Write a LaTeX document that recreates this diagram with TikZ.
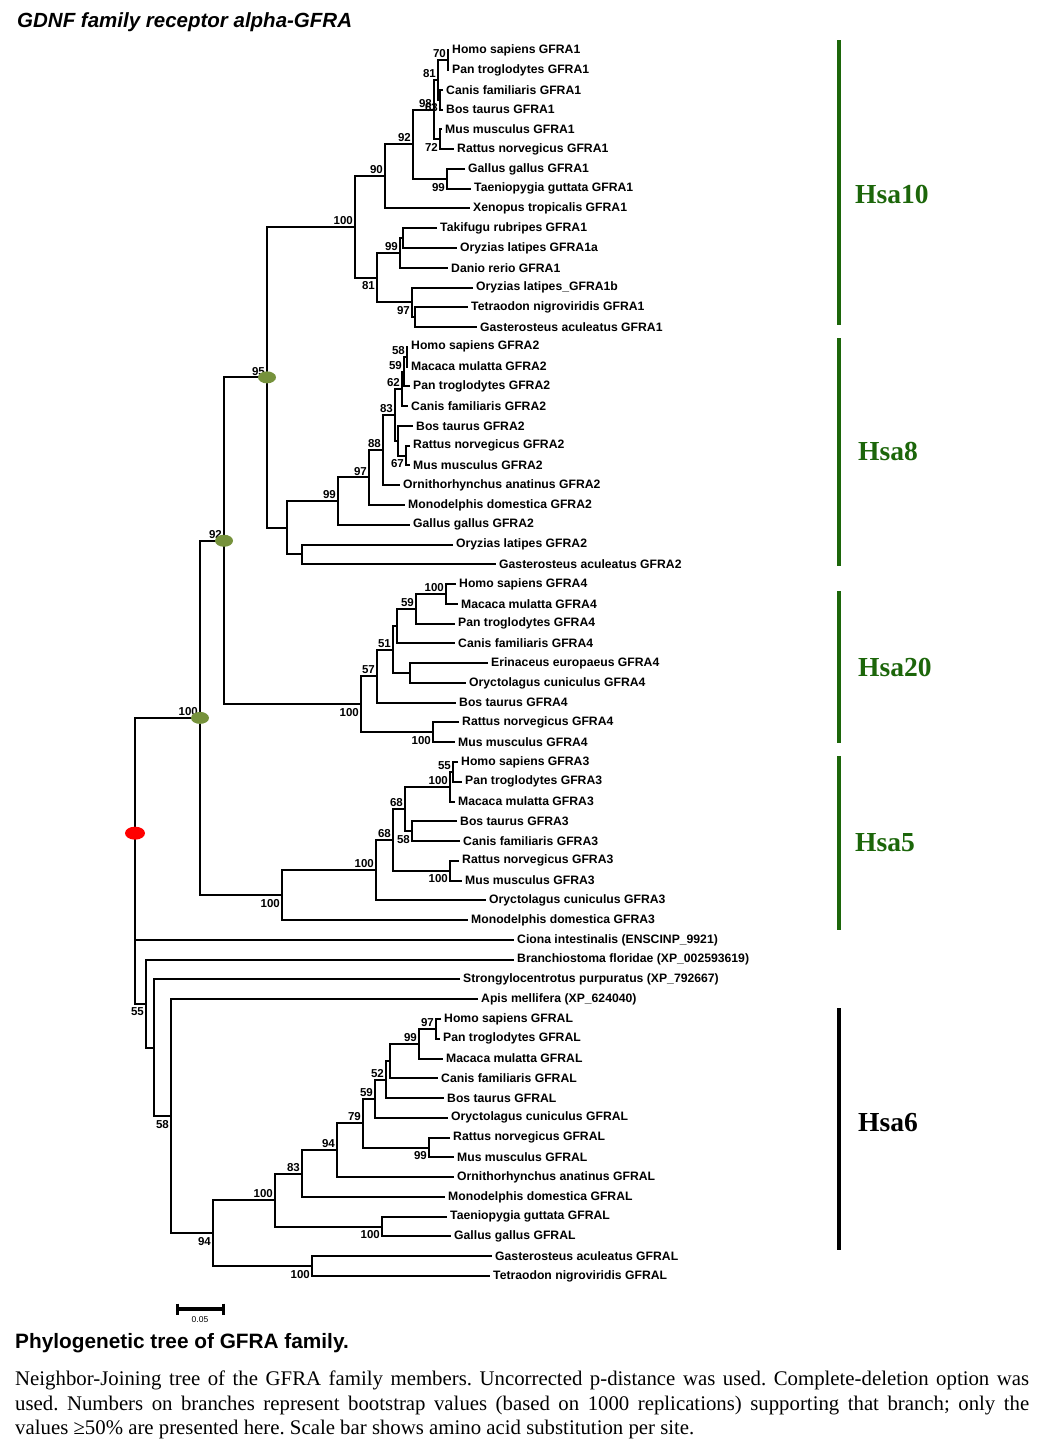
\documentclass[tikz,border=0pt]{standalone}
\usepackage{fontspec}
\setmainfont{Liberation Serif}
\setsansfont{Liberation Sans}
\usetikzlibrary{shapes.geometric,positioning}
\definecolor{hsagreen}{RGB}{28,102,10}
\definecolor{dotgreen}{RGB}{118,146,60}

\begin{document}
\begin{tikzpicture}[
    x=1pt, y=-1pt,
    branch/.style={line width=2pt},
    leaf/.style={anchor=west, inner xsep=3pt, inner ysep=0pt, font=\sffamily\bfseries\fontsize{12.2}{14}\selectfont},
    bsup/.style={anchor=south east, inner sep=1pt, xshift=-1pt, yshift=1pt, font=\sffamily\bfseries\fontsize{11.5}{12}\selectfont},
    bsdn/.style={anchor=north east, inner sep=1pt, xshift=-1pt, yshift=-3pt, font=\sffamily\bfseries\fontsize{11.5}{12}\selectfont},
    gdot/.style={ellipse, fill=dotgreen, minimum width=18pt, minimum height=12pt, inner sep=0pt},
    rdot/.style={ellipse, fill=red, minimum width=20pt, minimum height=13pt, inner sep=0pt},
    hsabar/.style={line width=4pt},
    hsa/.style={anchor=west, inner sep=0pt, font=\rmfamily\bfseries\fontsize{27.5}{30}\selectfont}
]
    \fill[white] (0,0) rectangle (1044,1454);
    \useasboundingbox (0,0) rectangle (1044,1454);

    % Title
    \node[anchor=base west, inner sep=0pt, font=\sffamily\bfseries\itshape\fontsize{20.5}{24}\selectfont] (title) at (17,27) {GDNF family receptor alpha-GFRA};

    % Tree (rows of leaves)
    \begin{scope}[y=-19.77pt, yshift=-30.5pt]

    % Leaves
    \foreach \n/\x/\t [count=\r] in {
        hsa1/449/Homo sapiens GFRA1,
        ptr1/449/Pan troglodytes GFRA1,
        cfa1/443/Canis familiaris GFRA1,
        bta1/443/Bos taurus GFRA1,
        mmu1/442/Mus musculus GFRA1,
        rno1/454/Rattus norvegicus GFRA1,
        gga1/465/Gallus gallus GFRA1,
        tgu1/471/Taeniopygia guttata GFRA1,
        xtr1/470/Xenopus tropicalis GFRA1,
        tru1/437/Takifugu rubripes GFRA1,
        ola1a/457/Oryzias latipes GFRA1a,
        dre1/448/Danio rerio GFRA1,
        ola1b/473/Oryzias latipes\_GFRA1b,
        tni1/468/Tetraodon nigroviridis GFRA1,
        gac1/477/Gasterosteus aculeatus GFRA1,
        hsa2/408/Homo sapiens GFRA2,
        mml2/408/Macaca mulatta GFRA2,
        ptr2/410/Pan troglodytes GFRA2,
        cfa2/408/Canis familiaris GFRA2,
        bta2/413/Bos taurus GFRA2,
        rno2/410/Rattus norvegicus GFRA2,
        mmu2/410/Mus musculus GFRA2,
        oan2/400/Ornithorhynchus anatinus GFRA2,
        mdo2/405/Monodelphis domestica GFRA2,
        gga2/410/Gallus gallus GFRA2,
        ola2/453/Oryzias latipes GFRA2,
        gac2/496/Gasterosteus aculeatus GFRA2,
        hsa4/456/Homo sapiens GFRA4,
        mml4/458/Macaca mulatta GFRA4,
        ptr4/455/Pan troglodytes GFRA4,
        cfa4/455/Canis familiaris GFRA4,
        eeu4/488/Erinaceus europaeus GFRA4,
        ocu4/466/Oryctolagus cuniculus GFRA4,
        bta4/456/Bos taurus GFRA4,
        rno4/459/Rattus norvegicus GFRA4,
        mmu4/455/Mus musculus GFRA4,
        hsa3/458/Homo sapiens GFRA3,
        ptr3/462/Pan troglodytes GFRA3,
        mml3/455/Macaca mulatta GFRA3,
        bta3/457/Bos taurus GFRA3,
        cfa3/460/Canis familiaris GFRA3,
        rno3/459/Rattus norvegicus GFRA3,
        mmu3/462/Mus musculus GFRA3,
        ocu3/486/Oryctolagus cuniculus GFRA3,
        mdo3/468/Monodelphis domestica GFRA3,
        cin/514/Ciona intestinalis (ENSCINP\_9921),
        bfl/514/Branchiostoma floridae (XP\_002593619),
        spu/460/Strongylocentrotus purpuratus (XP\_792667),
        ame/478/Apis mellifera (XP\_624040),
        hsaL/441/Homo sapiens GFRAL,
        ptrL/440/Pan troglodytes GFRAL,
        mmlL/443/Macaca mulatta GFRAL,
        cfaL/438/Canis familiaris GFRAL,
        btaL/444/Bos taurus GFRAL,
        ocuL/448/Oryctolagus cuniculus GFRAL,
        rnoL/450/Rattus norvegicus GFRAL,
        mmuL/454/Mus musculus GFRAL,
        oanL/454/Ornithorhynchus anatinus GFRAL,
        mdoL/445/Monodelphis domestica GFRAL,
        tguL/447/Taeniopygia guttata GFRAL,
        ggaL/451/Gallus gallus GFRAL,
        gacL/492/Gasterosteus aculeatus GFRAL,
        tniL/490/Tetraodon nigroviridis GFRAL}
        \node[leaf] (\n) at (\x,\r) {\t};

    % Internal nodes
    \foreach \n/\x/\r in {
        a70/448/1.5, a63/440/3.5, a81/438/2.5, a72/440/5.5, a98/434/4,
        a99/447/7.5, a92/413/5.75, a90/385/7.375, a00/403/10.5, a99b/400/11.25,
        a0b/415/14.5, a97/412/13.75, a81b/377/12.5, a100/355/9.9375,
        b58/407/16.5, b59/404/17.25, b62/402/18.125, b67/406/21.5, b0/398/20.75,
        b83/395/19.4375, b88/383/21.219, b97/369/22.609, b99/338/23.805,
        bf/302/26.5, b0r/287/25.152, g95/267/17.545,
        c100/446/28.5, c59/416/29.25, c0/397/30.125, c0b/410/32.5, c51/393/31.3125,
        c57/377/32.656, c100r/433/35.5, c100b/361/34.078, g92/224/25.81,
        d55/453/37.5, d100/450/38.25, d58/412/40.5, d68/405/39.375, d100r/450/42.5,
        d68b/393/40.9375, d100b/376/42.469, d100e/282/43.734, g100/200/34.77,
        e97/436/50.5, e99/419/51.25, e0/390/52.125, e52/386/53.0625, e59/375/54.031,
        e99r/429/56.5, e79/363/55.266, e94/337/56.633, e83/302/57.816,
        e100h/382/60.5, e100f/275/59.158, e100g/312/62.5, e94r/213/60.829,
        f58/171/54.915, f0/154/51.457, f55/146/49.229, root/135/40.6}
        \coordinate (\n) at (\x,\r);

    % Branches
    \foreach \a/\p/\b in {
        hsa1.west/a70/ptr1.west, cfa1.west/a63/bta1.west, a70/a81/a63,
        mmu1.west/a72/rno1.west, a81/a98/a72, gga1.west/a99/tgu1.west,
        a98/a92/a99, a92/a90/xtr1.west, tru1.west/a00/ola1a.west,
        a00/a99b/dre1.west, tni1.west/a0b/gac1.west, ola1b.west/a97/a0b,
        a99b/a81b/a97, a90/a100/a81b,
        hsa2.west/b58/mml2.west, b58/b59/ptr2.west, b59/b62/cfa2.west,
        rno2.west/b67/mmu2.west, bta2.west/b0/b67, b62/b83/b0,
        b83/b88/oan2.west, b88/b97/mdo2.west, b97/b99/gga2.west,
        ola2.west/bf/gac2.west, b99/b0r/bf, a100/g95/b0r,
        hsa4.west/c100/mml4.west, c100/c59/ptr4.west, c59/c0/cfa4.west,
        eeu4.west/c0b/ocu4.west, c0/c51/c0b, c51/c57/bta4.west,
        rno4.west/c100r/mmu4.west, c57/c100b/c100r, g95/g92/c100b,
        hsa3.west/d55/ptr3.west, d55/d100/mml3.west, bta3.west/d58/cfa3.west,
        d100/d68/d58, rno3.west/d100r/mmu3.west, d68/d68b/d100r,
        d68b/d100b/ocu3.west, d100b/d100e/mdo3.west, g92/g100/d100e,
        hsaL.west/e97/ptrL.west, e97/e99/mmlL.west, e99/e0/cfaL.west,
        e0/e52/btaL.west, e52/e59/ocuL.west, rnoL.west/e99r/mmuL.west,
        e59/e79/e99r, e79/e94/oanL.west, e94/e83/mdoL.west,
        tguL.west/e100h/ggaL.west, e83/e100f/e100h, gacL.west/e100g/tniL.west,
        e100f/e94r/e100g, ame.west/f58/e94r, spu.west/f0/f58,
        bfl.west/f55/f0, g100/root/f55}
        \draw[branch] (\a) -| (\p) |- (\b);
    \draw[branch] (root) |- (cin.west);

    % Bootstrap values
    \foreach \n/\v in {a70/70, a81/81, a98/98, a92/92, a90/90, a100/100, a99b/99,
        b58/58, b59/59, b62/62, b83/83, b88/88, b97/97, b99/99, g95/95,
        c100/100, c59/59, c51/51, c57/57, d55/55, d100/100, d68/68, d68b/68,
        d100b/100, g100/100, g92/92, e97/97, e99/99, e52/52, e59/59, e79/79,
        e94/94, e83/83, e100f/100}
        \node[bsup] at (\n) {\v};
    \foreach \n/\v in {a63/63, a72/72, a99/99, a81b/81, a97/97, b67/67,
        c100b/100, c100r/100, d58/58, d100r/100, d100e/100, f55/55, f58/58,
        e99r/99, e100h/100, e94r/94, e100g/100}
        \node[bsdn] at (\n) {\v};

    % Marked nodes
    \node[gdot] at (g95) {};
    \node[gdot] at (g92) {};
    \node[gdot] at (g100) {};
    \node[rdot] at (root) {};

    \end{scope}

    % Chromosome bars
    \draw[hsabar, hsagreen] (839,40) -- (839,325);
    \draw[hsabar, hsagreen] (839,338) -- (839,566);
    \draw[hsabar, hsagreen] (839,591) -- (839,743);
    \draw[hsabar, hsagreen] (839,756) -- (839,930);
    \draw[hsabar, black] (839,1008) -- (839,1250);
    \node[hsa, text=hsagreen] (hsa10) at (855,194) {Hsa10};
    \node[hsa, text=hsagreen] (hsa8) at (858,451) {Hsa8};
    \node[hsa, text=hsagreen] (hsa20) at (858,667) {Hsa20};
    \node[hsa, text=hsagreen] (hsa5) at (855,843) {Hsa5};
    \node[hsa] (hsa6) at (858,1123) {Hsa6};

    % Scale bar
    \coordinate (sbl) at (177,1309);
    \coordinate (sbr) at (223,1309);
    \draw[line width=3.5pt] (sbl) -- (sbr);
    \draw[line width=3pt] ([yshift=5.5pt]sbl) -- ([yshift=-5.5pt]sbl);
    \draw[line width=3pt] ([yshift=5.5pt]sbr) -- ([yshift=-5.5pt]sbr);
    \node[font=\sffamily\fontsize{8.5}{9}\selectfont, inner sep=0pt] (sblab) at (200,1320) {0.05};

    % Caption
    \node[anchor=base west, inner sep=0pt, font=\sffamily\bfseries\fontsize{20.8}{24}\selectfont] (captitle) at (15,1348) {Phylogenetic tree of GFRA family.};
    \node[anchor=north west, inner sep=0pt, text width=1014pt, align=justify, font=\rmfamily\fontsize{20.8}{24.5}\selectfont\frenchspacing] (caption) at (15,1371) {Neighbor-Joining tree of the GFRA family members. Uncorrected p-distance was used. Complete-deletion option was\linebreak used. Numbers on branches represent bootstrap values (based on 1000 replications) supporting that branch; only the\linebreak values ≥50\% are presented here. Scale bar shows amino acid substitution per site.};

\end{tikzpicture}
\end{document}
